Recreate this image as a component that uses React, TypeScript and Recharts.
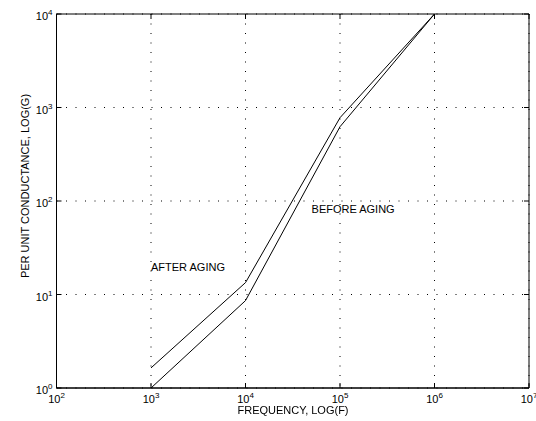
import React from 'react'
import {
  LineChart, Line, XAxis, YAxis, CartesianGrid, ReferenceDot, ReferenceArea,
} from 'recharts'

// ─── Data ─────────────────────────────────────────────────────────────────────

const FREQ = [1e3, 1e4, 1e5, 1e6]
const AFTER_AGING = [1.64, 13.4, 778, 10000]
const BEFORE_AGING = [1.0, 8.6, 623, 10000]

const X_TICKS = [1e2, 1e3, 1e4, 1e5, 1e6, 1e7]
const Y_TICKS = [1e0, 1e1, 1e2, 1e3, 1e4]

const NOTES = [
  { text: 'AFTER AGING', x: 1e3, y: 19.5 },
  { text: 'BEFORE AGING', x: 50000, y: 82 },
]

const data = FREQ.map((f, i) => ({ f, after: AFTER_AGING[i], before: BEFORE_AGING[i] }))

const FONT = '"Liberation Sans", Arial, Helvetica, sans-serif'

// ─── Ticks ────────────────────────────────────────────────────────────────────

const exp = (v: number) => Math.round(Math.log10(v))

function XTick({ x, y, payload }: any) {
  return (
    <g>
      <line x1={x} x2={x} y1={y} y2={y - 5} stroke="#000" />
      <text x={x} y={y + 15} textAnchor="middle" fontSize={11} fontFamily={FONT} fill="#000">
        10<tspan dy={-5} fontSize={8}>{exp(payload.value)}</tspan>
      </text>
    </g>
  )
}

function YTick({ x, y, payload }: any) {
  return (
    <g>
      <line x1={x} x2={x + 5} y1={y} y2={y} stroke="#000" />
      <text x={x - 4} y={y + 6} textAnchor="end" fontSize={11} fontFamily={FONT} fill="#000">
        10<tspan dy={-5} fontSize={8}>{exp(payload.value)}</tspan>
      </text>
    </g>
  )
}

function TopTick({ x, y }: any) {
  return <line x1={x} x2={x} y1={y} y2={y + 5} stroke="#000" />
}

function RightTick({ x, y }: any) {
  return <line x1={x} x2={x - 5} y1={y} y2={y} stroke="#000" />
}

function Note({ viewBox, value }: any) {
  return (
    <text x={viewBox.cx ?? viewBox.x} y={(viewBox.cy ?? viewBox.y) + 4} fontSize={11} fontFamily={FONT} fill="#000">
      {value}
    </text>
  )
}

// ─── App ──────────────────────────────────────────────────────────────────────

export default function App() {
  return (
    <div style={{ position: 'fixed', left: 0, top: 0, width: 536, height: 421, background: '#fff' }}>
      <LineChart width={536} height={421} data={data} margin={{ top: 13, right: 6, left: 0, bottom: 0 }}>
        <CartesianGrid xAxisId="b" yAxisId="l" stroke="#000" strokeDasharray="1 8.5" />
        <XAxis
          xAxisId="b"
          dataKey="f"
          type="number"
          scale="log"
          domain={[1e2, 1e7]}
          ticks={X_TICKS}
          height={33}
          axisLine={{ stroke: '#000' }}
          tickLine={false}
          tickSize={0}
          tickMargin={0}
          tick={<XTick />}
          interval={0}
          allowDataOverflow
        />
        <XAxis
          xAxisId="t"
          dataKey="f"
          orientation="top"
          type="number"
          scale="log"
          domain={[1e2, 1e7]}
          ticks={X_TICKS}
          height={1}
          axisLine={false}
          tickLine={false}
          tickSize={0}
          tickMargin={0}
          tick={<TopTick />}
          interval={0}
          allowDataOverflow
        />
        <YAxis
          yAxisId="l"
          type="number"
          scale="log"
          domain={[1, 1e4]}
          ticks={Y_TICKS}
          width={56.5}
          axisLine={{ stroke: '#000' }}
          tickLine={false}
          tickSize={0}
          tickMargin={0}
          tick={<YTick />}
          interval={0}
          allowDataOverflow
        />
        <YAxis
          yAxisId="r"
          orientation="right"
          type="number"
          scale="log"
          domain={[1, 1e4]}
          ticks={Y_TICKS}
          width={1}
          axisLine={false}
          tickLine={false}
          tickSize={0}
          tickMargin={0}
          tick={<RightTick />}
          interval={0}
          allowDataOverflow
        />
        <ReferenceArea
          xAxisId="b"
          yAxisId="l"
          x1={1e2}
          x2={1e7}
          y1={1}
          y2={1e4}
          fill="none"
          fillOpacity={0}
          stroke="#000"
          strokeOpacity={1}
        />
        <Line xAxisId="b" yAxisId="l" dataKey="after" stroke="#000" strokeWidth={1} dot={false} isAnimationActive={false} />
        <Line xAxisId="b" yAxisId="l" dataKey="before" stroke="#000" strokeWidth={1} dot={false} isAnimationActive={false} />
        {NOTES.map((n) => (
          <ReferenceDot
            key={n.text}
            xAxisId="b"
            yAxisId="l"
            x={n.x}
            y={n.y}
            r={0}
            fill="none"
            stroke="none"
            label={<Note value={n.text} />}
          />
        ))}
      </LineChart>
      <div style={{
        position: 'absolute', left: 0, top: 404, width: 586, textAlign: 'center',
        font: `11px ${FONT}`, color: '#000',
      }}>
        FREQUENCY, LOG(F)
      </div>
      <div style={{
        position: 'absolute', left: 25, top: 186, transform: 'translate(-50%, -50%) rotate(-90deg)',
        font: `11px ${FONT}`, color: '#000', whiteSpace: 'nowrap',
      }}>
        PER UNIT CONDUCTANCE, LOG(G)
      </div>
    </div>
  )
}
